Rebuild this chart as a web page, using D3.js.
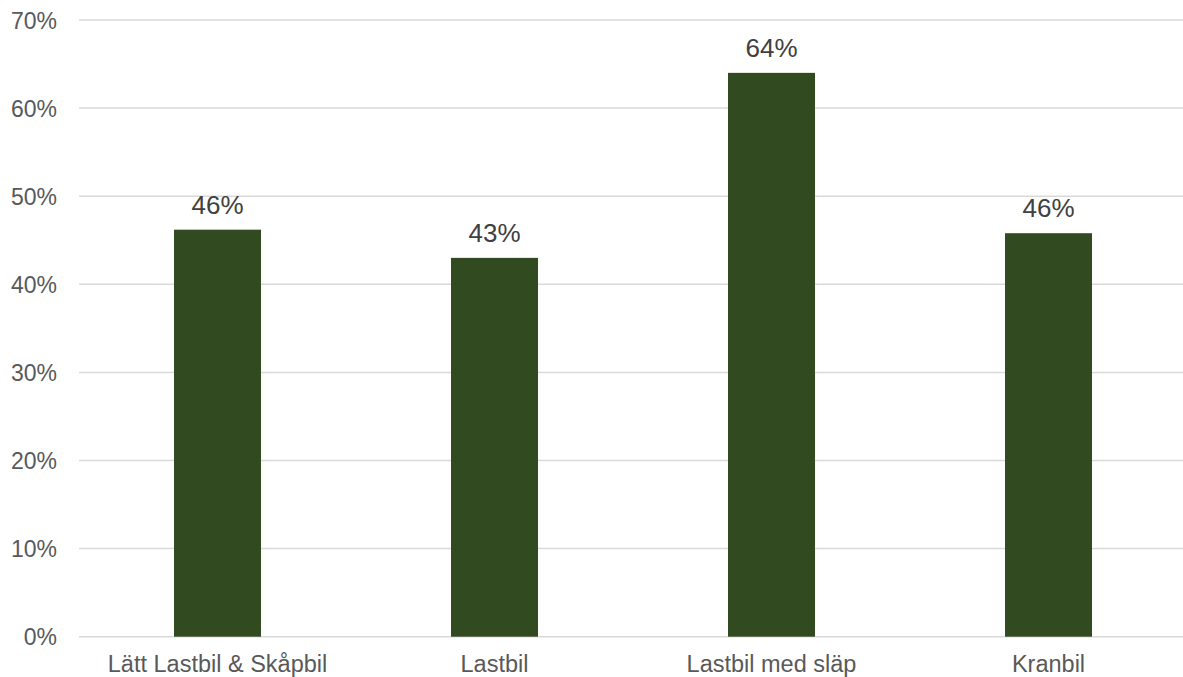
<!DOCTYPE html>
<html>
<head>
<meta charset="utf-8">
<script src="https://cdn.jsdelivr.net/npm/d3@7"></script>
<style>
  html, body { margin: 0; padding: 0; background: #ffffff; }
  svg { display: block; }
</style>
</head>
<body>
<script>
const categories = ["Lätt Lastbil & Skåpbil", "Lastbil", "Lastbil med släp", "Kranbil"];
const values = [0.462, 0.430, 0.640, 0.458];
const tickValues = [0, 0.1, 0.2, 0.3, 0.4, 0.5, 0.6, 0.7];

const W = 1183, H = 677;
const margin = { left: 79, right: -4, top: 20, bottom: 40 };

const svg = d3.select("body").append("svg")
  .attr("width", W).attr("height", H);

const x = d3.scaleBand()
  .domain(categories)
  .range([margin.left, W - margin.right])
  .padding(0);

const y = d3.scaleLinear()
  .domain([0, 0.7])
  .range([H - margin.bottom - 0.3, margin.top]);

const barW = x.bandwidth() * 0.314;

// gridlines
svg.append("g")
  .selectAll("line")
  .data(tickValues)
  .join("line")
  .attr("x1", margin.left)
  .attr("x2", W)
  .attr("y1", d => y(d))
  .attr("y2", d => y(d))
  .attr("stroke", "#d9d9d9")
  .attr("stroke-width", 1.5);

// y tick labels
svg.append("g")
  .selectAll("text")
  .data(tickValues)
  .join("text")
  .attr("x", 57)
  .attr("y", d => y(d) + 8.5)
  .attr("text-anchor", "end")
  .attr("font-family", "'Liberation Sans', Arial, sans-serif")
  .attr("font-size", 23)
  .attr("fill", "#595959")
  .text(d => d3.format(".0%")(d));

// bars
svg.append("g")
  .selectAll("rect")
  .data(values)
  .join("rect")
  .attr("x", (d, i) => x(categories[i]) + x.bandwidth() / 2 - barW / 2)
  .attr("y", d => y(d))
  .attr("width", barW)
  .attr("height", d => y(0) - y(d))
  .attr("fill", "#314a1f");

// data labels
svg.append("g")
  .selectAll("text")
  .data(values)
  .join("text")
  .attr("x", (d, i) => x(categories[i]) + x.bandwidth() / 2)
  .attr("y", d => y(d) - 16)
  .attr("text-anchor", "middle")
  .attr("font-family", "'Liberation Sans', Arial, sans-serif")
  .attr("font-size", 26)
  .attr("fill", "#404040")
  .text(d => d3.format(".0%")(d));

// category labels
svg.append("g")
  .selectAll("text")
  .data(categories)
  .join("text")
  .attr("x", d => x(d) + x.bandwidth() / 2)
  .attr("y", 672)
  .attr("text-anchor", "middle")
  .attr("font-family", "'Liberation Sans', Arial, sans-serif")
  .attr("font-size", 23.5)
  .attr("fill", "#595959")
  .text(d => d);
</script>
</body>
</html>
